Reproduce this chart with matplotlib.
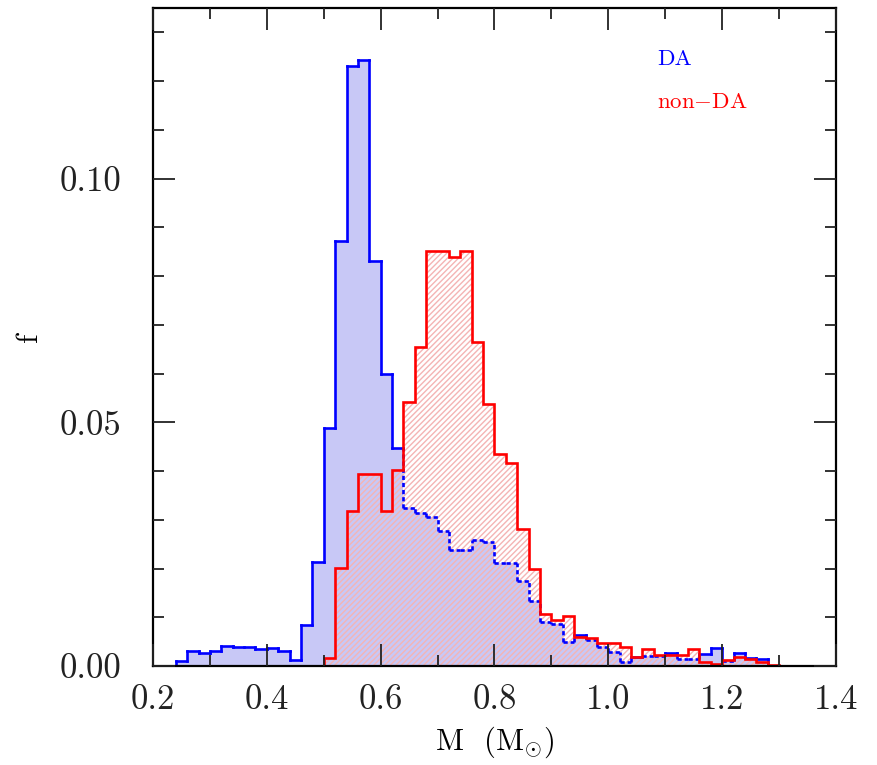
import numpy as np
import matplotlib
matplotlib.use("Agg")
import matplotlib.pyplot as plt
from matplotlib.collections import LineCollection

# === Data ===
BIN = 0.02
da_start = 0.24
da_f = [0.0010, 0.0031, 0.0027, 0.0031, 0.0041, 0.0038, 0.0038, 0.0035,
        0.0036, 0.0031, 0.0012, 0.0085, 0.0213, 0.0488, 0.0873, 0.1232,
        0.1243, 0.0832, 0.0600, 0.0447, 0.0325, 0.0313, 0.0305, 0.0277,
        0.0238, 0.0238, 0.0258, 0.0255, 0.0212, 0.0212, 0.0174, 0.0134,
        0.0091, 0.0087, 0.0050, 0.0063, 0.0053, 0.0040, 0.0029, 0.0009,
        0.0019, 0.0020, 0.0020, 0.0027, 0.0014, 0.0014, 0.0025, 0.0036,
        0.0010, 0.0027, 0.0017, 0.0015]

nonda_start = 0.50
nonda_f = [0.0017, 0.0201, 0.0318, 0.0394, 0.0394, 0.0318, 0.0403, 0.0541,
           0.0655, 0.0851, 0.0851, 0.0840, 0.0851, 0.0664, 0.0538, 0.0436,
           0.0417, 0.0282, 0.0200, 0.0106, 0.0094, 0.0103, 0.0060, 0.0057,
           0.0048, 0.0048, 0.0038, 0.0018, 0.0034, 0.0023, 0.0023, 0.0023,
           0.0034, 0.0009, 0.0004, 0.0012, 0.0018, 0.0014, 0.0008, 0.0003]

labels = ["DA", "non$-$DA"]

# === Style ===
BLUE = "#0000ff"
RED = "#ff0000"
BLUE_FILL = "#c8c8f6"
HATCH = "#f4b4b4"
LW = 1.9

plt.rcParams["font.family"] = ["cmr10", "DejaVu Serif"]
plt.rcParams["mathtext.fontset"] = "cm"
plt.rcParams["hatch.linewidth"] = 1.0

da = np.array(da_f)
nd = np.array(nonda_f)
e_da = da_start + BIN * np.arange(len(da) + 1)
e_nd = nonda_start + BIN * np.arange(len(nd) + 1)

# non-DA on the DA bin grid (to find where the DA outline is hidden)
off = int(round((nonda_start - da_start) / BIN))
nd_on_da = np.zeros(max(len(da), off + len(nd)) + 1)
nd_on_da[off:off + len(nd)] = nd

fig = plt.figure(figsize=(8.77, 7.65), dpi=100)
ax = fig.add_axes([0.1745, 0.1294, 0.7787, 0.8601])

# fills
ax.stairs(da, e_da, fill=True, color=BLUE_FILL, lw=0, zorder=1)
ax.stairs(nd, e_nd, fill=True, facecolor="none", edgecolor=HATCH,
          hatch="//////", lw=0, zorder=2)

# DA outline: solid outside the non-DA histogram, dashed inside it
solid, dashed = [], []
n = len(da)
for i in range(n):
    seg = [(e_da[i], da[i]), (e_da[i + 1], da[i])]
    (dashed if da[i] < nd_on_da[i] else solid).append(seg)
for i in range(n + 1):
    b0 = da[i - 1] if i > 0 else 0.0
    b1 = da[i] if i < n else 0.0
    r0 = nd_on_da[i - 1] if i > 0 else 0.0
    r1 = nd_on_da[i]
    lo, hi = min(b0, b1), max(b0, b1)
    m = max(r0, r1)
    if lo < m:
        dashed.append([(e_da[i], lo), (e_da[i], min(hi, m))])
    if hi > m:
        solid.append([(e_da[i], max(lo, m)), (e_da[i], hi)])

ax.add_collection(LineCollection(solid, colors=BLUE, linewidths=LW,
                                 capstyle="projecting", zorder=4))
ax.add_collection(LineCollection(dashed, colors=BLUE, linewidths=LW,
                                 linestyles=[(0, (1.6, 1.1))], zorder=4))

# non-DA outline
ax.stairs(nd, e_nd, color=RED, lw=LW, zorder=5)

# labels inside the frame
ax.text(0.738, 0.913, labels[0], color=BLUE, fontsize=16.5, va="baseline",
        transform=ax.transAxes)
ax.text(0.738, 0.848, labels[1], color=RED, fontsize=16.5, va="baseline",
        transform=ax.transAxes)

# === Axes ===
ax.set_xlim(0.2, 1.4)
ax.set_ylim(0, 0.135)
ax.set_xticks(np.arange(0.2, 1.41, 0.2))
ax.set_xticks(np.arange(0.3, 1.4, 0.2), minor=True)
ax.set_yticks([0.0, 0.05, 0.10])
ax.set_yticks(np.arange(0.01, 0.135, 0.01), minor=True)
ax.set_xticklabels([f"{v:.1f}" for v in np.arange(0.2, 1.41, 0.2)])
ax.set_yticklabels(["0.00", "0.05", "0.10"])
ax.tick_params(which="both", direction="in", top=True, right=True,
               width=1.3, labelsize=25, colors="#222222")
ax.tick_params(which="major", length=16, pad=13)
ax.tick_params(which="minor", length=8)
ax.tick_params(axis="y", which="major", pad=23)
ax.xaxis.set_zorder(6)
ax.yaxis.set_zorder(6)
for s in ax.spines.values():
    s.set_linewidth(1.6)
    s.set_zorder(6)

ax.set_xlabel(r"M  (M$_{\odot}$)", fontsize=22, labelpad=6)
ax.set_ylabel("f", fontsize=22, labelpad=12)

fig.savefig("out.png", dpi=100)
